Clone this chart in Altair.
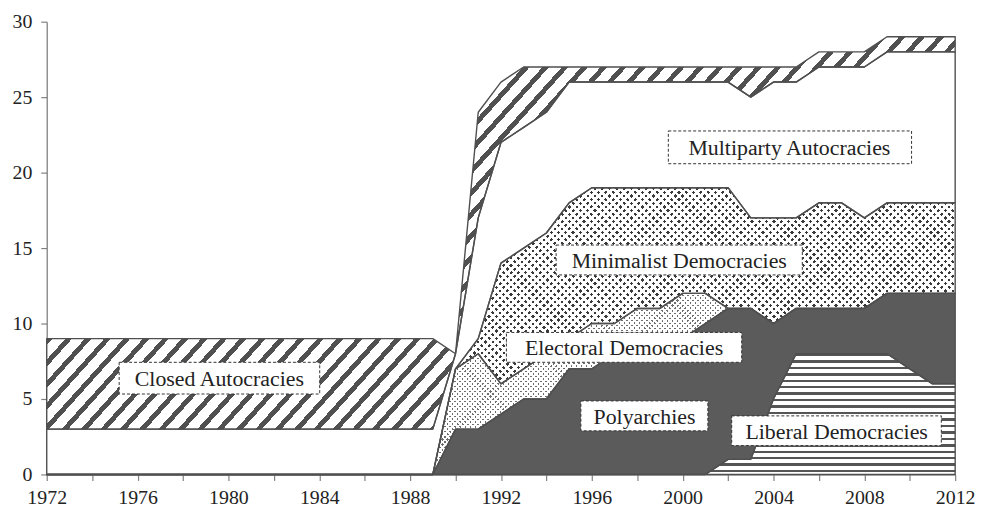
import math
import altair as alt
import pandas as pd

# ---------------- data (counts of countries per regime type) ----------------
years = list(range(1972, 2013))

series_names = [
    "Liberal Democracies",
    "Polyarchies",
    "Electoral Democracies",
    "Minimalist Democracies",
    "Multiparty Autocracies",
    "Closed Autocracies",
]

liberal = [0, 0, 0, 0, 0, 0, 0, 0, 0, 0, 0, 0, 0, 0, 0, 0, 0, 0,
           0, 0, 0, 0, 0, 0, 0, 0, 0, 0, 0, 0,
           1, 1, 5, 8, 8, 8, 8, 8, 7, 6, 6]
polyarchies = [0, 0, 0, 0, 0, 0, 0, 0, 0, 0, 0, 0, 0, 0, 0, 0, 0, 0,
               3, 3, 4, 5, 5, 7, 7, 8, 8, 9, 9, 10,
               10, 10, 5, 3, 3, 3, 3, 4, 5, 6, 6]
electoral = [0, 0, 0, 0, 0, 0, 0, 0, 0, 0, 0, 0, 0, 0, 0, 0, 0, 0,
             4, 5, 2, 2, 3, 2, 3, 2, 3, 2, 3, 2,
             0, 0, 0, 0, 0, 0, 0, 0, 0, 0, 0]
minimalist = [0, 0, 0, 0, 0, 0, 0, 0, 0, 0, 0, 0, 0, 0, 0, 0, 0, 0,
              0, 1, 8, 8, 8, 9, 9, 9, 8, 8, 7, 7,
              8, 6, 7, 6, 7, 7, 6, 6, 6, 6, 6]
multiparty = [3, 3, 3, 3, 3, 3, 3, 3, 3, 3, 3, 3, 3, 3, 3, 3, 3, 3,
              1, 8, 8, 8, 8, 8, 7, 7, 7, 7, 7, 7,
              7, 8, 9, 9, 9, 9, 10, 10, 10, 10, 10]
closed = [6, 6, 6, 6, 6, 6, 6, 6, 6, 6, 6, 6, 6, 6, 6, 6, 6, 6,
          0, 7, 4, 4, 3, 1, 1, 1, 1, 1, 1, 1,
          1, 2, 1, 1, 1, 1, 1, 1, 1, 1, 1]

series_values = [liberal, polyarchies, electoral, minimalist, multiparty, closed]

# label annotations (data units)
label_text = ["Closed Autocracies", "Multiparty Autocracies", "Minimalist Democracies",
              "Electoral Democracies", "Polyarchies", "Liberal Democracies"]
label_x = [1979.6, 2004.7, 1999.85, 1997.42, 1998.32, 2006.78]
label_y = [6.38, 21.68, 14.21, 8.42, 3.88, 2.89]
box_x1 = [1975.19, 1999.37, 1994.43, 1992.24, 1995.52, 2002.16]
box_x2 = [1984.02, 2010.08, 2005.27, 2002.60, 2001.11, 2011.39]
box_y1 = [5.33, 20.59, 13.22, 7.43, 2.89, 1.91]
box_y2 = [7.43, 22.76, 15.20, 9.41, 4.87, 3.88]

# ---------------- tables ----------------
rows = []
for i, yr in enumerate(years):
    lo = 0
    for name, vals in zip(series_names, series_values):
        hi = lo + vals[i]
        rows.append({"year": yr, "series": name, "lo": lo, "hi": hi})
        lo = hi
df = pd.DataFrame(rows)

labels = pd.DataFrame({
    "label": label_text, "tx": label_x, "ty": label_y,
    "bx1": box_x1, "bx2": box_x2, "by1": box_y1, "by2": box_y2,
})

# ---------------- styling helpers ----------------
W_PLOT, H_PLOT = 915, 456
PX_PER_UNIT = H_PLOT / 30.0
SERIF = "Liberation Serif"
LINE = "#4f4f4f"


def bbox_h(name):
    sub = df[df.series == name]
    return max(1.0, (sub.hi.max() - sub.lo.min()) * PX_PER_UNIT)


def stripes(w, h, angle, period, frac, on, off):
    """Hard-stop linear gradient producing parallel stripes in a w x h box."""
    a = math.radians(angle)
    gx, gy = math.sin(a) / h, math.cos(a) / w
    corners = [(0, 0), (1, 0), (0, 1), (1, 1)]
    proj = [cx * gx + cy * gy for cx, cy in corners]
    i0, i1 = proj.index(min(proj)), proj.index(max(proj))
    span = proj[i1] - proj[i0]
    gg = gx * gx + gy * gy
    sx, sy = corners[i0]
    ex, ey = sx + span / gg * gx, sy + span / gg * gy
    count = w * h * span / period
    stops = []
    k = 0
    while k < count:
        o0 = k / count
        o1 = min((k + frac) / count, 1.0)
        o2 = min((k + 1) / count, 1.0)
        stops += [(o0, on), (o1, on), (o1, off), (o2, off)]
        k += 1
    return alt.LinearGradient(
        gradient="linear",
        x1=round(sx, 5), y1=round(sy, 5), x2=round(ex, 5), y2=round(ey, 5),
        stops=[alt.GradientStop(offset=round(o, 5), color=c) for o, c in stops],
    )


x_axis = alt.Axis(
    values=years, format="d",
    labelExpr="(datum.value - 1972) % 4 === 0 ? datum.label : ''",
    tickSize=6, labelPadding=7, labelFontSize=20, labelFont=SERIF, labelColor="#222",
    domainColor="#808080", tickColor="#808080", domainWidth=1.3, tickWidth=1.2,
    grid=False, title=None, labelOverlap=False, labelFlush=False,
)
y_axis = alt.Axis(
    values=[0, 5, 10, 15, 20, 25, 30],
    tickSize=6, labelPadding=9, labelFontSize=20, labelFont=SERIF, labelColor="#222",
    domainColor="#808080", tickColor="#808080", domainWidth=1.3, tickWidth=1.2,
    grid=False, title=None,
)

base = alt.Chart(df).encode(
    x=alt.X("year:Q", scale=alt.Scale(domain=[1972, 2012], nice=False, zero=False), axis=x_axis),
    y=alt.Y("lo:Q", scale=alt.Scale(domain=[0, 30], nice=False), axis=y_axis),
    y2="hi:Q",
)


def area(name, **kw):
    return base.transform_filter(alt.datum.series == name).mark_area(**kw)


layers = []
# Liberal democracies: wavy-line texture (approximated by horizontal lines)
layers.append(area("Liberal Democracies",
                   fill=stripes(W_PLOT, bbox_h("Liberal Democracies"), 0, 6.5, 0.38, "#555555", "white")))
# Polyarchies: solid dark grey
layers.append(area("Polyarchies", fill="#5b5b5b"))
# Electoral democracies: fine dots
layers.append(area("Electoral Democracies",
                   fill=stripes(W_PLOT, bbox_h("Electoral Democracies"), 45, 3.6, 0.42, "#6e6e6e", "white")))
layers.append(area("Electoral Democracies",
                   fill=stripes(W_PLOT, bbox_h("Electoral Democracies"), 135, 3.6, 0.42, "transparent", "white")))
# Minimalist democracies: coarse dots
layers.append(area("Minimalist Democracies",
                   fill=stripes(W_PLOT, bbox_h("Minimalist Democracies"), 45, 5.2, 0.46, "#3a3a3a", "white")))
layers.append(area("Minimalist Democracies",
                   fill=stripes(W_PLOT, bbox_h("Minimalist Democracies"), 135, 5.2, 0.46, "transparent", "white")))
# Multiparty autocracies: white
layers.append(area("Multiparty Autocracies", fill="white"))
# Closed autocracies: diagonal hatching
layers.append(area("Closed Autocracies",
                   fill=stripes(W_PLOT, bbox_h("Closed Autocracies"), 48, 14.5, 0.34, "#505050", "white")))

# outlines
for name in series_names:
    layers.append(area(name, fill="white", fillOpacity=0, stroke=LINE, strokeWidth=1.4,
                       strokeJoin="round"))

boxes = alt.Chart(labels).mark_rect(
    fill="white", stroke="#333", strokeWidth=1, strokeDash=[3, 2]
).encode(x="bx1:Q", x2="bx2:Q", y="by1:Q", y2="by2:Q")

texts = alt.Chart(labels).mark_text(
    font=SERIF, fontSize=22, color="#222", align="center", baseline="middle", dy=1
).encode(x="tx:Q", y="ty:Q", text="label:N")

chart = alt.layer(*layers, boxes, texts).properties(
    width=W_PLOT, height=H_PLOT,
    autosize=alt.AutoSizeParams(type="none"),
    padding={"left": 39, "top": 12, "right": 24, "bottom": 32},
    background="white",
).configure_view(strokeWidth=0)

chart.save("out.html", embed_options={"renderer": "svg", "actions": False})
